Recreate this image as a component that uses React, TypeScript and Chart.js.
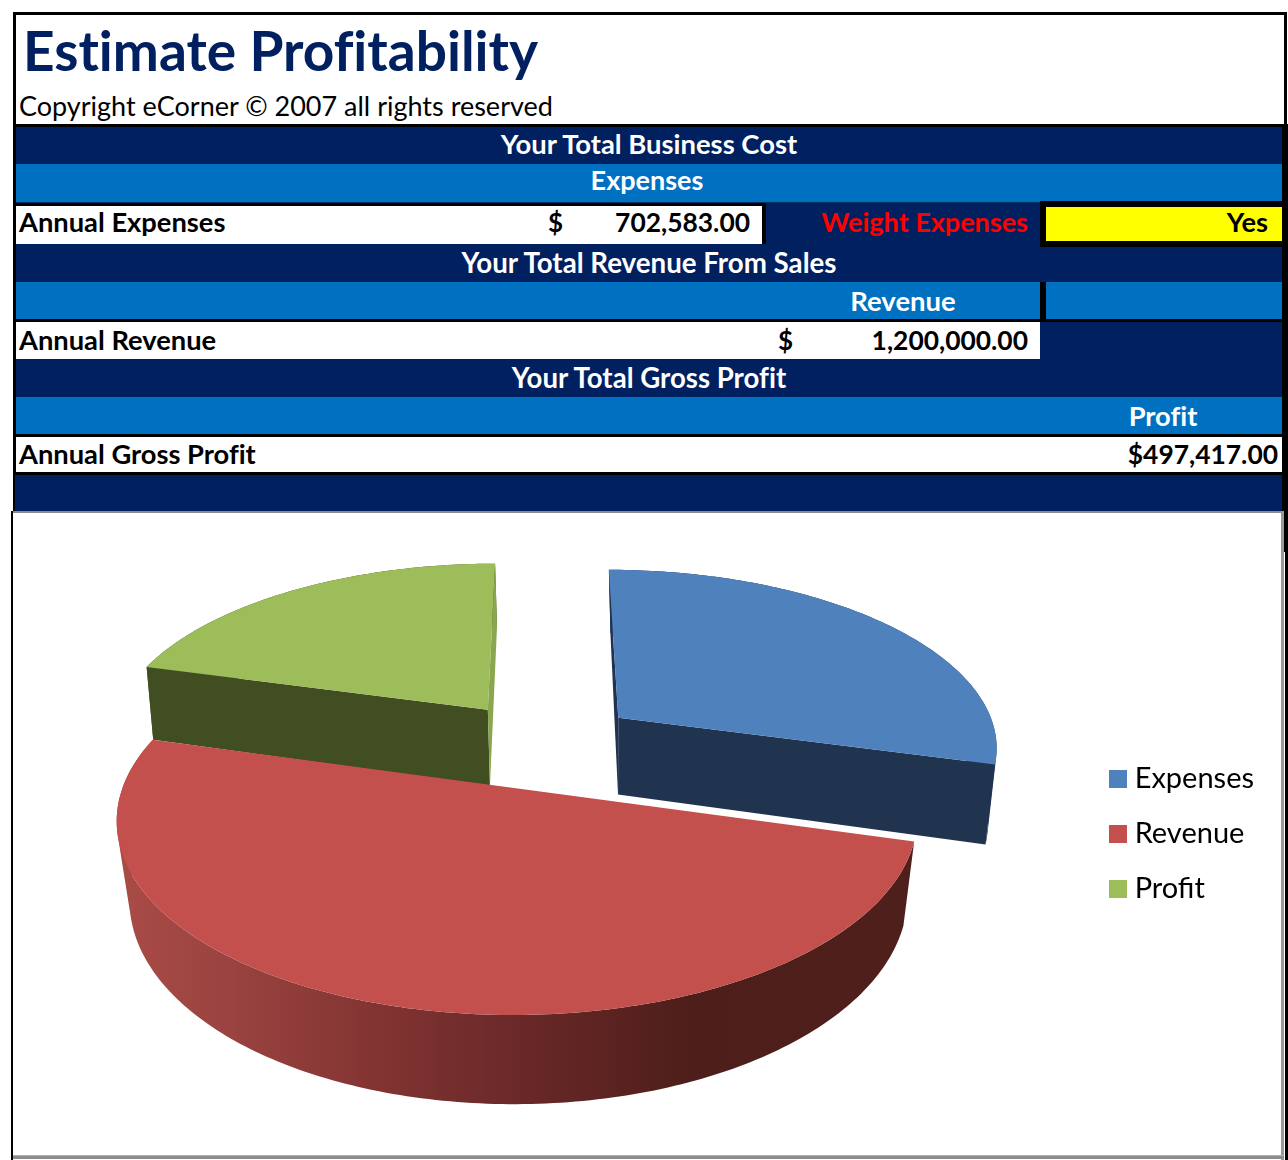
import React, { useEffect, useRef } from "react";
import { Chart, registerables } from "chart.js";

Chart.register(...registerables);

const categories = ["Expenses", "Revenue", "Profit"];
const values = [702583, 1200000, 497417];
const sliceColors = ["#4F81BD", "#C3504D", "#9DBC5A"];

const money = ["702,583.00", "1,200,000.00", "$497,417.00"];

const NAVY = "#002060";
const BLUE = "#0070C0";
const FONT = "Lato, Carlito, sans-serif";

const CANVAS_LEFT = 14;
const CANVAS_TOP = 513;
const CANVAS_W = 1267;
const CANVAS_H = 642;
const EXPLODE_PX = 71.5;

// camera: perspective of the disc plane at the top and at the bottom of the extrusion
const topPlane = { x0: 544, ax: 381, bx: 82, y0: 744, by: -65.5, h: 0.1505 };
const bottomPlane = { x0: 545, ax: 373, bx: 73, y0: 822.7, by: -80.6, h: 0.1323 };

const startFaces = ["#1F3350", "#4A1C1A", "#414E22"];
const endFaces = ["#203450", "#4A1C1A", "#8AA64F"];
const rimStops: [number, string][][] = [
  [[0, "#1F3350"], [1, "#1F3350"]],
  [[0.02, "#A84A46"], [0.14, "#9A4340"], [0.31, "#843533"], [0.48, "#6D2A2A"], [0.72, "#4E1E1A"], [0.98, "#4F1F1B"]],
  [[0, "#414E22"], [1, "#414E22"]],
];

type Pt = [number, number];
type Plane = typeof topPlane;

function project(p: Plane, u: number, v: number): Pt {
  const d = 1 + p.h * v;
  return [(p.x0 + p.ax * u + p.bx * v) / d - CANVAS_LEFT, (p.y0 + p.by * v) / d - CANVAS_TOP];
}

function polygon(ctx: CanvasRenderingContext2D, pts: Pt[]) {
  pts.forEach((q, i) => (i ? ctx.lineTo(q[0], q[1]) : ctx.moveTo(q[0], q[1])));
  ctx.closePath();
}

function area(pts: Pt[]) {
  let s = 0;
  pts.forEach((q, i) => {
    const n = pts[(i + 1) % pts.length];
    s += q[0] * n[1] - n[0] * q[1];
  });
  return s;
}

const pie3d = {
  id: "pie3d",
  beforeDatasetDraw(chart: any, args: any) {
    const ctx: CanvasRenderingContext2D = chart.ctx;
    const arcs = args.meta.data.map((el: any, i: number) => {
      const { startAngle, endAngle, outerRadius } = el.getProps(["startAngle", "endAngle", "outerRadius"], true);
      const mid = (startAngle + endAngle) / 2;
      const k = el.options.offset / outerRadius;
      return { i, a0: startAngle, a1: endAngle, cu: k * Math.cos(mid), cv: -k * Math.sin(mid) };
    });
    arcs.sort((a: any, b: any) => b.cv - a.cv);

    for (const s of arcs) {
      const edge = (a: number): Pt => [s.cu + Math.cos(a), s.cv - Math.sin(a)];
      const steps = Math.max(8, Math.ceil((s.a1 - s.a0) * 60));
      const tops: Pt[] = [];
      const bots: Pt[] = [];
      for (let n = 0; n <= steps; n++) {
        const e = edge(s.a0 + ((s.a1 - s.a0) * n) / steps);
        tops.push(project(topPlane, e[0], e[1]));
        bots.push(project(bottomPlane, e[0], e[1]));
      }
      const apexT = project(topPlane, s.cu, s.cv);
      const apexB = project(bottomPlane, s.cu, s.cv);

      // outer rim
      const xs = tops.concat(bots).map((q) => q[0]);
      const g = ctx.createLinearGradient(Math.min(...xs), 0, Math.max(...xs), 0);
      rimStops[s.i].forEach(([o, c]) => g.addColorStop(o, c));
      ctx.beginPath();
      for (let n = 0; n < steps; n++) {
        const quad: Pt[] = [tops[n], tops[n + 1], bots[n + 1], bots[n]];
        polygon(ctx, area(quad) < 0 ? quad.reverse() : quad);
      }
      ctx.fillStyle = g;
      ctx.fill();

      // the two cut faces, only when they look towards the camera
      const startFace: Pt[] = [apexT, tops[0], bots[0], apexB];
      const endFace: Pt[] = [apexT, tops[steps], bots[steps], apexB];
      if (area(startFace) < 0) {
        ctx.beginPath();
        polygon(ctx, startFace);
        ctx.fillStyle = startFaces[s.i];
        ctx.fill();
      }
      if (area(endFace) > 0) {
        ctx.beginPath();
        polygon(ctx, endFace);
        ctx.fillStyle = endFaces[s.i];
        ctx.fill();
      }

      // top face
      ctx.beginPath();
      polygon(ctx, [apexT, ...tops]);
      ctx.fillStyle = sliceColors[s.i];
      ctx.fill();
    }
    return false;
  },
};

function swatch(color: string) {
  const c = document.createElement("canvas");
  c.width = 18;
  c.height = 18;
  const x = c.getContext("2d")!;
  x.fillStyle = color;
  x.fillRect(0, 0, 18, 18);
  return c;
}

function Box({ x, y, w, h, c }: { x: number; y: number; w: number; h: number; c: string }) {
  return <div style={{ position: "absolute", left: x, top: y, width: w, height: h, background: c }} />;
}

type TextProps = {
  t: string;
  y: number;
  left?: number;
  right?: number;
  center?: number;
  c?: string;
  size?: number;
  weight?: number;
};

function Txt({ t, y, left, right, center, c = "#000", size = 27.3, weight = 700 }: TextProps) {
  const style: React.CSSProperties = {
    position: "absolute",
    top: y - 30,
    height: 60,
    lineHeight: "60px",
    whiteSpace: "nowrap",
    fontFamily: FONT,
    fontSize: size,
    fontWeight: weight,
    fontVariantLigatures: "none",
    color: c,
  };
  if (left !== undefined) style.left = left;
  if (right !== undefined) style.right = 1288 - right;
  if (center !== undefined) {
    style.left = center - 400;
    style.width = 800;
    style.textAlign = "center";
  }
  return <div style={style}>{t}</div>;
}

export default function App() {
  const ref = useRef<HTMLCanvasElement>(null);

  useEffect(() => {
    const chart = new Chart(ref.current!, {
      type: "pie",
      data: {
        labels: categories,
        datasets: [{ data: values, backgroundColor: sliceColors, offset: EXPLODE_PX, borderWidth: 0 }],
      },
      options: {
        responsive: false,
        animation: false,
        layout: { padding: { right: 17 } },
        plugins: {
          tooltip: { enabled: false },
          legend: {
            position: "right",
            labels: {
              usePointStyle: true,
              boxWidth: 5,
              boxHeight: 5,
              padding: 26,
              color: "#000",
              font: { family: FONT, size: 29 },
              generateLabels: () =>
                categories.map((text, i) => ({
                  text,
                  index: i,
                  hidden: false,
                  fillStyle: sliceColors[i],
                  strokeStyle: sliceColors[i],
                  lineWidth: 0,
                  pointStyle: swatch(sliceColors[i]),
                })),
            },
          },
        },
      },
      plugins: [pie3d],
    } as any);
    return () => chart.destroy();
  }, []);

  return (
    <div style={{ position: "absolute", left: 0, top: 0, width: 1288, height: 1160, overflow: "hidden", background: "#fff" }}>
      {/* sheet frame */}
      <Box x={13} y={12} w={1274} h={3} c="#000" />
      <Box x={13} y={12} w={3} h={500} c="#000" />
      <Box x={11} y={511} w={2} h={649} c="#000" />
      <Box x={1284} y={511} w={4} h={41} c="#000" />
      <Box x={1285} y={552} w={3} h={608} c="#000" />
      <Box x={1284} y={12} w={3} h={112} c="#000" />
      <Box x={13} y={124} w={1275} h={3} c="#000" />

      {/* rows */}
      <Box x={16} y={127} w={1266} h={37} c={NAVY} />
      <Box x={16} y={164} w={1266} h={38} c={BLUE} />
      <Box x={16} y={202} w={1266} h={1} c="#00305F" />
      <Box x={16} y={203} w={750} h={3} c="#000" />
      <Box x={16} y={206} w={746} h={38} c="#fff" />
      <Box x={762} y={203} w={4} h={41} c="#000" />
      <Box x={766} y={203} w={274} h={41} c={NAVY} />
      <Box x={1040} y={201} w={242} h={46} c="#000" />
      <Box x={1046} y={207} w={236} h={34} c="#FFFF00" />
      <Box x={16} y={244} w={1024} h={38} c={NAVY} />
      <Box x={1040} y={247} w={242} h={35} c={NAVY} />
      <Box x={16} y={282} w={1024} h={37} c={BLUE} />
      <Box x={1040} y={282} w={6} h={37} c="#000" />
      <Box x={1046} y={282} w={236} h={37} c={BLUE} />
      <Box x={16} y={319} w={1266} h={3} c="#000" />
      <Box x={16} y={322} w={1024} h={37} c="#fff" />
      <Box x={1040} y={322} w={242} h={37} c={NAVY} />
      <Box x={16} y={359} w={1266} h={38} c={NAVY} />
      <Box x={16} y={397} w={1266} h={37} c={BLUE} />
      <Box x={16} y={434} w={1266} h={3} c="#000" />
      <Box x={16} y={437} w={1266} h={35} c="#fff" />
      <Box x={16} y={472} w={1266} h={3} c="#000" />
      <Box x={15} y={475} w={1268} h={36} c={NAVY} />
      <Box x={1282} y={127} w={6} h={384} c="#000" />

      <Txt t="Estimate Profitability" left={23} y={50} size={55} c={NAVY} />
      <Txt t="Copyright eCorner © 2007 all rights reserved" left={19} y={106} size={27} weight={400} />

      <Txt t="Your Total Business Cost" center={649} y={144} c="#fff" size={27.4} />
      <Txt t="Expenses" center={647} y={180} c="#fff" size={27} />
      <Txt t="Annual Expenses" left={19} y={222} />
      <Txt t="$" left={548} y={222} size={26} />
      <Txt t={money[0]} right={750} y={222} size={26.4} />
      <Txt t="Weight Expenses" right={1028} y={222} c="#FF0000" size={27} />
      <Txt t="Yes" right={1268} y={222} />
      <Txt t="Your Total Revenue From Sales" center={649} y={263} c="#fff" size={27.7} />
      <Txt t="Revenue" center={903} y={301} c="#fff" size={27.5} />
      <Txt t="Annual Revenue" left={19} y={340} />
      <Txt t="$" left={778} y={340} size={26} />
      <Txt t={money[1]} right={1028} y={340} size={26.4} />
      <Txt t="Your Total Gross Profit" center={649} y={378} c="#fff" size={27.6} />
      <Txt t="Profit" center={1163} y={416} c="#fff" />
      <Txt t="Annual Gross Profit" left={19} y={454} />
      <Txt t={money[2]} right={1278} y={454} size={26.4} />

      {/* chart frame */}
      <Box x={13} y={511} w={1271} h={2} c="#8C8C8C" />
      <Box x={1281} y={511} w={3} h={649} c="#9A9A9A" />
      <Box x={13} y={1155} w={1271} h={1} c="#B0B0B0" />
      <Box x={13} y={1156} w={1271} h={3} c="#8C8C8C" />
      <canvas
        ref={ref}
        width={CANVAS_W}
        height={CANVAS_H}
        style={{ position: "absolute", left: CANVAS_LEFT, top: CANVAS_TOP, width: CANVAS_W, height: CANVAS_H }}
      />
    </div>
  );
}
